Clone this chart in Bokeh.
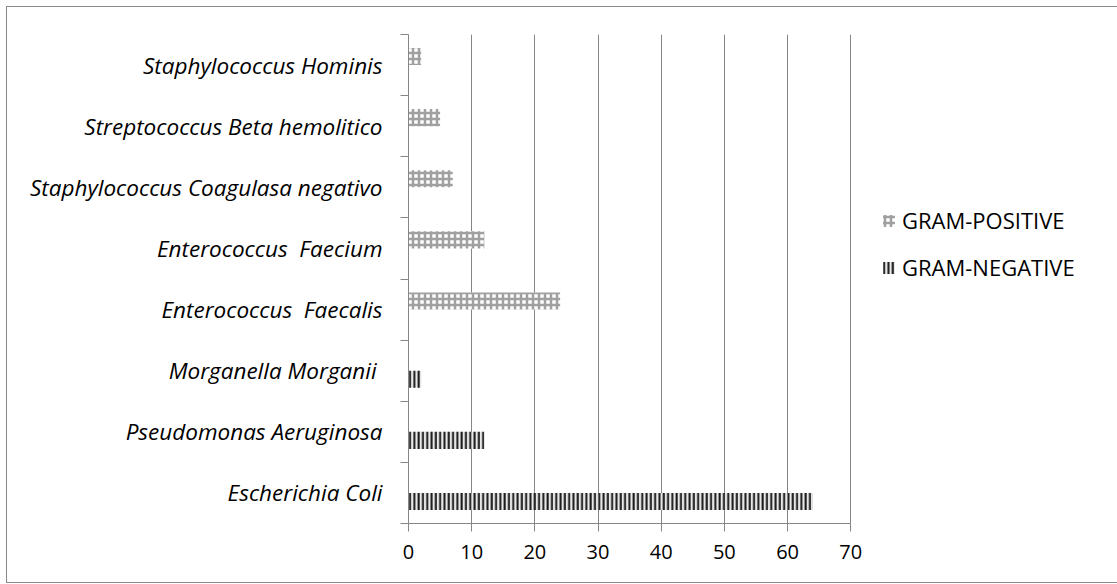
from bokeh.plotting import figure
from bokeh.models import (ColumnDataSource, Range1d, FixedTicker, Legend, LegendItem)
from bokeh.transform import dodge
from bokeh.embed import file_html
from bokeh.resources import INLINE

categories = ["Escherichia Coli", "Pseudomonas Aeruginosa", "Morganella Morganii\u00a0",
              "Enterococcus\u00a0 Faecalis", "Enterococcus\u00a0 Faecium",
              "Staphylococcus Coagulasa negativo", "Streptococcus Beta hemolitico",
              "Staphylococcus Hominis"]
gram_negative = [64, 12, 2, 0, 0, 0, 0, 0]
gram_positive = [0, 0, 0, 24, 12, 7, 5, 2]
x_ticks = [0, 10, 20, 30, 40, 50, 60, 70]
x_max = 70

pos = [i + 0.5 for i in range(len(categories))]
src = ColumnDataSource(dict(pos=pos, neg=gram_negative, posv=gram_positive))

FONT = "Open Sans"
GRAY = "#868686"

# frame spans the plot area plus the legend area on its right
AXIS_W = 441
FRAME_W = 709
p = figure(width=1112, height=577, output_backend="svg", toolbar_location=None,
           x_range=Range1d(0, x_max * FRAME_W / AXIS_W), y_range=Range1d(0, len(categories)),
           min_border_left=401, min_border_right=0, min_border_top=27,
           min_border_bottom=61)
p.styles = {"border": "1px solid #888888", "box-sizing": "border-box",
            "margin-left": "6px", "margin-top": "6px"}
p.outline_line_color = None
p.background_fill_color = "white"
p.border_fill_color = "white"

neg = p.hbar(y=dodge("pos", -0.14, range=p.y_range), right="neg", left=0, height=0.28,
             source=src, fill_color="#e8e8e8", line_color=None,
             hatch_pattern="vertical_line", hatch_color="#1a1a1a",
             hatch_weight=2, hatch_scale=4.3)
posr = p.hbar(y=dodge("pos", 0.14, range=p.y_range), right="posv", left=0, height=0.28,
              source=src, fill_color="white", line_color=None,
              hatch_pattern="cross", hatch_color="#a0a0a0",
              hatch_weight=2.5, hatch_scale=6)

# grid
p.ygrid.grid_line_color = None
p.xgrid.grid_line_color = GRAY
p.xgrid.grid_line_width = 1
p.xgrid.ticker = FixedTicker(ticks=x_ticks)

# x axis
xa = p.xaxis[0]
xa.ticker = FixedTicker(ticks=x_ticks)
xa.bounds = (0, x_max)
xa.axis_line_color = GRAY
xa.major_tick_line_color = GRAY
xa.major_tick_out = 8
xa.major_tick_in = 0
xa.minor_tick_line_color = None
xa.major_label_text_font = FONT
xa.major_label_text_font_size = "20px"
xa.major_label_text_color = "black"
xa.major_label_standoff = 13

# y axis
ya = p.yaxis[0]
ya.ticker = FixedTicker(ticks=pos, minor_ticks=list(range(len(categories) + 1)))
ya.major_label_overrides = {pv: c for pv, c in zip(pos, categories)}
ya.axis_line_color = GRAY
ya.major_tick_line_color = None
ya.major_tick_out = 0
ya.major_tick_in = 0
ya.minor_tick_line_color = GRAY
ya.minor_tick_out = 8
ya.minor_tick_in = 0
ya.major_label_text_font = FONT
ya.major_label_text_font_style = "italic"
ya.major_label_text_font_size = "22.5px"
ya.major_label_text_color = "black"
ya.major_label_standoff = 18

legend = Legend(items=[LegendItem(label="GRAM-POSITIVE", renderers=[posr]),
                       LegendItem(label="GRAM-NEGATIVE", renderers=[neg])],
                location=(473, 241), orientation="vertical",
                label_text_font=FONT, label_text_font_size="22px",
                label_text_color="black",
                glyph_width=15, glyph_height=15, label_standoff=6,
                spacing=17, padding=0, margin=0,
                border_line_color=None, background_fill_alpha=0)
p.add_layout(legend, "center")

open("out.html", "w").write(file_html(p, INLINE))
